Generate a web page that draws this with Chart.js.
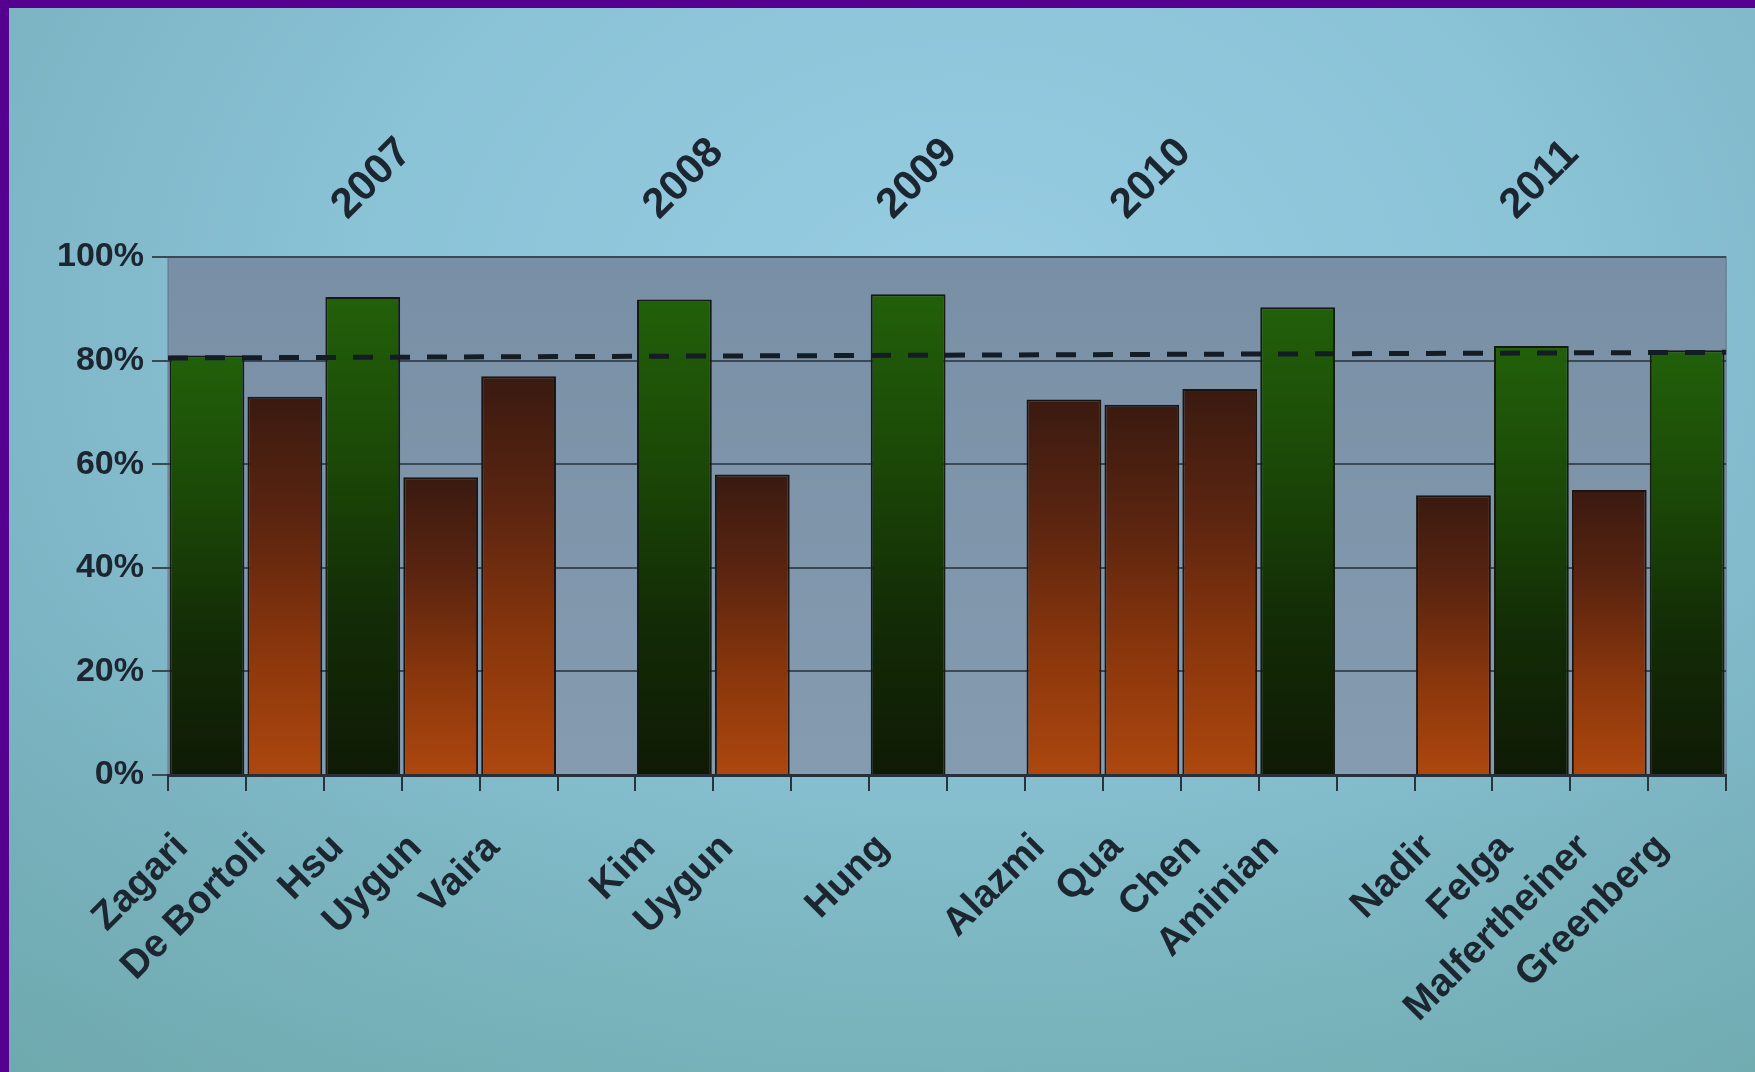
<!DOCTYPE html>
<html>
<head>
<meta charset="utf-8">
<title>Eradication rates by study</title>
<script src="https://cdn.jsdelivr.net/npm/chart.js@4.4.1/dist/chart.umd.min.js"></script>
<style>
  html, body {
    margin: 0;
    padding: 0;
    width: 1755px;
    height: 1072px;
    overflow: hidden;
  }
  body {
    background:
      linear-gradient(to bottom, rgba(0,0,0,0) 55%, rgba(105,170,160,0.35) 100%),
      radial-gradient(ellipse at 55% 30%, #98cde2 0%, #8ac2d6 45%, #72a9b6 100%);
  }
  #wrap {
    position: absolute;
    left: 0;
    top: 0;
    width: 1755px;
    height: 1072px;
  }
  .frame {
    position: absolute;
    background: #55008f;
    z-index: 2;
  }
  #frameLeft { left: 0; top: 0; width: 9px; height: 1072px; }
  #frameTop { left: 0; top: 0; width: 1755px; height: 8px; }
</style>
</head>
<body>
<div id="wrap"><canvas id="rateChart"></canvas></div>
<div class="frame" id="frameLeft"></div>
<div class="frame" id="frameTop"></div>

<script>
// study names, one slot each; empty slots separate the years
var studies = [
    "Zagari", "De Bortoli", "Hsu", "Uygun", "Vaira", "",
    "Kim", "Uygun", "",
    "Hung", "",
    "Alazmi", "Qua", "Chen", "Aminian", "",
    "Nadir", "Felga", "Malfertheiner", "Greenberg"
];

// year captions along the top, same slots as above
var yearLabels = [
    "", "", "2007", "", "", "",
    "2008", "", "",
    "2009", "",
    "", "2010", "", "", "",
    "", "2011", "", ""
];

// eradication rate (%) - green studies
var greenRates = [
    81, null, 92.3, null, null, null,
    91.8, null, null,
    92.8, null,
    null, null, null, 90.3, null,
    null, 82.8, null, 82
];

// eradication rate (%) - orange studies
var orangeRates = [
    null, 73, null, 57.5, 77, null,
    null, 58, null,
    null, null,
    72.5, 71.5, 74.5, null, null,
    54, null, 55, null
];

// dashed reference line, value at left and right edge
var refLine = [80.5, 81.6];

var yTicks = [0, 20, 40, 60, 80, 100];

//colours
var greenStops = ["#22600a", "#1b4907", "#132c06", "#0f1a05"];
var orangeStops = ["#3a1a10", "#5c2510", "#8a360c", "#ad470f"];
var tickColor = "#1c2630";

// vertical gradient running from the top of each bar to the baseline
function barFill(context, stops) {
    var chart = context.chart;
    var area = chart.chartArea;
    if (!area || context.raw == null) {
        return stops[stops.length - 1];
    }
    var top = chart.scales.y.getPixelForValue(context.raw);
    var g = chart.ctx.createLinearGradient(0, top, 0, area.bottom);
    stops.forEach(function (c, i) {
        g.addColorStop(i / (stops.length - 1), c);
    });
    return g;
}

// grey-blue panel behind the bars
const plotBackground = {
    id: "plotBackground",
    beforeDraw(chart) {
        const ctx = chart.ctx;
        const a = chart.chartArea;
        const g = ctx.createLinearGradient(0, a.top, 0, a.bottom);
        g.addColorStop(0, "#788fa5");
        g.addColorStop(1, "#849bb0");
        ctx.save();
        ctx.fillStyle = g;
        ctx.fillRect(a.left, a.top, a.width, a.height);
        ctx.strokeStyle = "#5f7589";
        ctx.lineWidth = 1;
        ctx.strokeRect(a.left, a.top, a.width, a.height);
        ctx.restore();
    }
};

// dashed line drawn over the bars
const refLinePlugin = {
    id: "refLine",
    afterDatasetsDraw(chart) {
        const ctx = chart.ctx;
        const a = chart.chartArea;
        const y = chart.scales.y;
        ctx.save();
        ctx.strokeStyle = "#141d26";
        ctx.lineWidth = 5;
        ctx.setLineDash([20, 17]);
        ctx.beginPath();
        ctx.moveTo(a.left, y.getPixelForValue(refLine[0]));
        ctx.lineTo(a.right, y.getPixelForValue(refLine[1]));
        ctx.stroke();
        ctx.restore();
    }
};

var labelFont = { family: "'Liberation Sans', Arial, sans-serif", size: 39, weight: "bold" };
var yearFont = { family: "'Liberation Sans', Arial, sans-serif", size: 42, weight: "bold" };

new Chart("rateChart", {
    type: "bar",
    data: {
        labels: studies,
        datasets: [{
            label: "Green",
            data: greenRates,
            grouped: false,
            barPercentage: 0.96,
            categoryPercentage: 1,
            backgroundColor: function (c) { return barFill(c, greenStops); },
            borderColor: "#151a12",
            borderWidth: 2
        }, {
            label: "Orange",
            data: orangeRates,
            grouped: false,
            barPercentage: 0.96,
            categoryPercentage: 1,
            backgroundColor: function (c) { return barFill(c, orangeStops); },
            borderColor: "#1c1410",
            borderWidth: 2
        }]
    },
    options: {
        responsive: true,
        maintainAspectRatio: false,
        animation: false,
        layout: {
            padding: { top: 0, right: 22, bottom: 0, left: 0 }
        },
        plugins: {
            legend: { display: false },
            tooltip: { enabled: false }
        },
        scales: {
            x: {
                type: "category",
                position: "bottom",
                offset: true,
                grid: {
                    offset: true,
                    drawOnChartArea: false,
                    drawTicks: true,
                    tickLength: 16,
                    color: "#2a3440",
                    lineWidth: 2
                },
                border: { display: true, color: "#26303a", width: 3 },
                ticks: {
                    autoSkip: false,
                    minRotation: 45,
                    maxRotation: 45,
                    padding: 34,
                    labelOffset: -25,
                    color: tickColor,
                    font: labelFont
                },
                afterFit: function (s) { s.height = 297; }
            },
            x2: {
                type: "category",
                position: "top",
                labels: yearLabels,
                offset: true,
                grid: { display: false, drawTicks: false },
                border: { display: false },
                ticks: {
                    autoSkip: false,
                    minRotation: 45,
                    maxRotation: 45,
                    padding: 27,
                    labelOffset: 12,
                    color: tickColor,
                    font: yearFont
                },
                afterFit: function (s) { s.height = 257; }
            },
            y: {
                min: 0,
                max: 100,
                afterBuildTicks: function (s) {
                    s.ticks = yTicks.map(function (v) { return { value: v }; });
                },
                grid: {
                    color: "#3b4957",
                    lineWidth: 2,
                    drawTicks: true,
                    tickLength: 16
                },
                border: { display: false },
                ticks: {
                    padding: 8,
                    color: tickColor,
                    font: { family: "'Liberation Sans', Arial, sans-serif", size: 34, weight: "bold" },
                    callback: function (v) { return v + "%"; }
                },
                afterFit: function (s) { s.width = 168; }
            }
        }
    },
    plugins: [plotBackground, refLinePlugin]
});
</script>
</body>
</html>
